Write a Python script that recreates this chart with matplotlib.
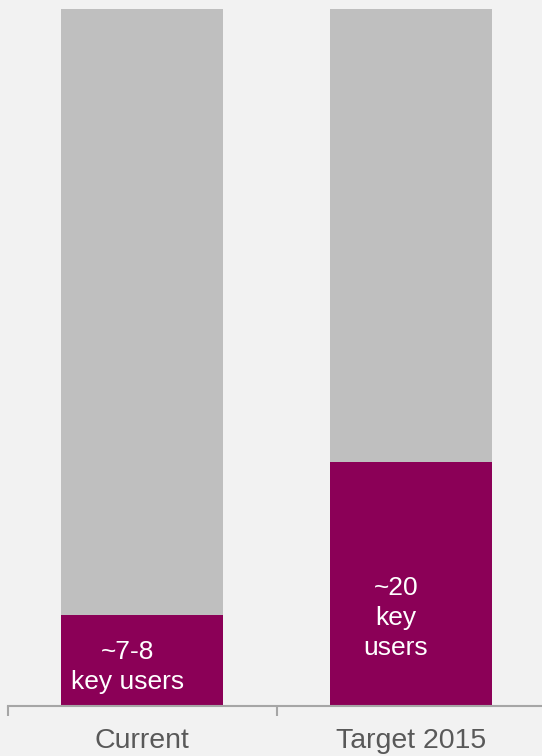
import matplotlib
matplotlib.use("Agg")
import matplotlib.pyplot as plt

categories = ["Current", "Target 2015"]
key_users_share = [13.1, 35.0]
remainder_share = [86.9, 65.0]
bar_labels = ["~7-8\nkey users", "~20\nkey\nusers"]
label_heights = [5.6, 12.6]

plt.rcParams['font.family'] = ['Liberation Sans', 'DejaVu Sans']

bg = "#f2f2f2"
purple = "#8b0057"
grey = "#bfbfbf"

fig = plt.figure(figsize=(5.42, 7.56), dpi=100, facecolor=bg)
ax = fig.add_axes([8/542, 50/756, 537/542, 697/756])
ax.set_facecolor(bg)

x = list(range(len(categories)))
w = 0.604
ax.bar(x, key_users_share, width=w, color=purple, zorder=2)
ax.bar(x, remainder_share, width=w, bottom=key_users_share, color=grey, zorder=2)

for xi, lab, yh in zip(x, bar_labels, label_heights):
    ax.text(xi - 0.055, yh, lab, ha="center", va="center", color="white",
            fontsize=19, linespacing=1.32, zorder=3)

ax.set_xlim(-0.5, 1.5)
ax.set_ylim(0, 100)
ax.set_yticks([])
ax.set_xticks(x)
ax.set_xticklabels(categories, fontsize=20.5, color="#595959")
ax.tick_params(axis="x", which="major", length=0, pad=16)
ax.set_xticks([-0.5, 0.5, 1.5], minor=True)
ax.tick_params(axis="x", which="minor", length=7, width=1.5, color="#a6a6a6", direction="out")
for s in ["top", "right", "left"]:
    ax.spines[s].set_visible(False)
ax.spines["bottom"].set_color("#a6a6a6")
ax.spines["bottom"].set_linewidth(1.5)

fig.savefig("out.png", dpi=100, facecolor=bg)
